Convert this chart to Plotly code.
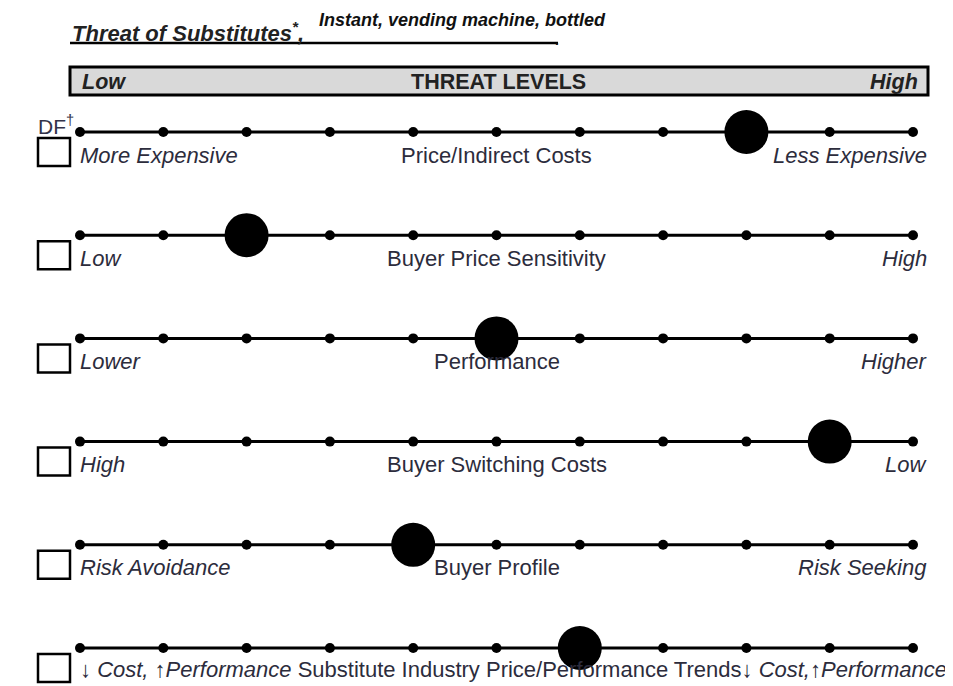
import plotly.graph_objects as go

# ---------------- data ----------------
scale_positions = list(range(11))  # 11 tick dots on each threat scale
factors = ["Price/Indirect Costs", "Buyer Price Sensitivity", "Performance",
           "Buyer Switching Costs", "Buyer Profile",
           "Substitute Industry Price/Performance Trends"]
left_labels = ["More Expensive", "Low", "Lower", "High", "Risk Avoidance",
               "↓ Cost, ↑Performance"]
right_labels = ["Less Expensive", "High", "Higher", "Low", "Risk Seeking",
                "↓ Cost,↑Performance"]
threat_positions = [8, 2, 5, 9, 4, 6]
title_text = "Threat of Substitutes"
industry_text = "Instant, vending machine, bottled"
bar_labels = ["Low", "THREAT LEVELS", "High"]

# ---------------- geometry helpers (page pixel -> data) ----------------
OFF = 8                 # default page body margin
W, H = 953 - OFF, 686 - OFF
X0, DX = 80.0, 83.3     # page px of position 0, px per step
Y0, DY = 132.0, 103.2   # page px of row 0, px per row


def fx(px):
    return (px - X0) / DX


def fy(px):
    return (px - Y0) / DY


FONT = "Liberation Sans, Arial, sans-serif"
TXT = "#2c2c3c"

fig = go.Figure()

# scale lines with dots
for r in range(len(factors)):
    fig.add_trace(go.Scatter(
        x=scale_positions, y=[r] * len(scale_positions),
        mode="lines+markers",
        line=dict(color="black", width=3),
        marker=dict(color="black", size=10),
        hoverinfo="skip", showlegend=False))

# big threat markers
fig.add_trace(go.Scatter(
    x=threat_positions, y=list(range(len(factors))),
    mode="markers",
    marker=dict(color="black", size=44),
    showlegend=False))

shapes = []
annotations = []

# header underline
shapes.append(dict(type="line", xref="x", yref="y",
                   x0=fx(70), x1=fx(558), y0=fy(43), y1=fy(43),
                   line=dict(color="black", width=2.5)))
# threat level bar
shapes.append(dict(type="rect", xref="x", yref="y",
                   x0=fx(70), x1=fx(928), y0=fy(67), y1=fy(95),
                   fillcolor="#d9d9d9", line=dict(color="black", width=3)))

annotations.append(dict(x=fx(70), y=fy(32), xref="x", yref="y",
                        xanchor="left", yanchor="middle", showarrow=False,
                        text="<b><i>" + title_text + "<sup>*</sup>,</i></b>",
                        font=dict(family=FONT, size=22, color="#222")))
annotations.append(dict(x=fx(317), y=fy(20), xref="x", yref="y",
                        xanchor="left", yanchor="middle", showarrow=False,
                        text="<b><i>" + industry_text + "</i></b>",
                        font=dict(family=FONT, size=18, color="#111")))
annotations.append(dict(x=fx(557), y=fy(40), xref="x", yref="y",
                        xanchor="center", yanchor="middle", showarrow=False,
                        text="<b>.</b>", font=dict(family=FONT, size=14, color="#111")))

annotations.append(dict(x=fx(80), y=fy(82), xref="x", yref="y",
                        xanchor="left", yanchor="middle", showarrow=False,
                        text="<b><i>" + bar_labels[0] + "</i></b>",
                        font=dict(family=FONT, size=21.5, color="#222")))
annotations.append(dict(x=fx(498), y=fy(82), xref="x", yref="y",
                        xanchor="center", yanchor="middle", showarrow=False,
                        text="<b>" + bar_labels[1] + "</b>",
                        font=dict(family=FONT, size=21.5, color="#222")))
annotations.append(dict(x=fx(920), y=fy(82), xref="x", yref="y",
                        xanchor="right", yanchor="middle", showarrow=False,
                        text="<b><i>" + bar_labels[2] + "</i></b>",
                        font=dict(family=FONT, size=21.5, color="#222")))

# DF dagger
annotations.append(dict(x=fx(36), y=fy(125), xref="x", yref="y",
                        xanchor="left", yanchor="middle", showarrow=False,
                        text="DF<sup>†</sup>",
                        font=dict(family=FONT, size=21, color="#33334a")))

LAB = 22
for r in range(len(factors)):
    # checkbox
    shapes.append(dict(type="rect", xref="x", yref="y",
                       x0=fx(38), x1=fx(70), y0=r + 6 / DY, y1=r + 34 / DY,
                       fillcolor="white", line=dict(color="black", width=2.5)))
    ly = r + 23 / DY
    if r < len(factors) - 1:
        annotations.append(dict(x=fx(78), y=ly, xref="x", yref="y",
                                xanchor="left", yanchor="middle", showarrow=False,
                                text="<i>" + left_labels[r] + "</i>",
                                font=dict(family=FONT, size=LAB, color=TXT)))
        annotations.append(dict(x=5, y=ly, xref="x", yref="y",
                                xanchor="center", yanchor="middle", showarrow=False,
                                text=factors[r],
                                font=dict(family=FONT, size=LAB, color=TXT)))
        annotations.append(dict(x=fx(929), y=ly, xref="x", yref="y",
                                xanchor="right", yanchor="middle", showarrow=False,
                                text="<i>" + right_labels[r] + "</i>",
                                font=dict(family=FONT, size=LAB, color=TXT)))
    else:
        la = left_labels[r].split(" ", 1)
        ra = right_labels[r]
        txt = (la[0] + " <i>" + la[1] + "</i> " + factors[r] +
               ra[0] + "<i>" + ra[1:] + "</i>")
        annotations.append(dict(x=fx(78), y=r + 21 / DY, xref="x", yref="y",
                                xanchor="left", yanchor="middle", showarrow=False,
                                text=txt,
                                font=dict(family=FONT, size=22, color=TXT)))

fig.update_layout(
    width=W, height=H,
    margin=dict(l=0, r=0, t=0, b=0),
    paper_bgcolor="white", plot_bgcolor="white",
    xaxis=dict(range=[fx(OFF), fx(OFF + W)], visible=False, fixedrange=True),
    yaxis=dict(range=[fy(OFF + H), fy(OFF)], visible=False, fixedrange=True),
    shapes=shapes, annotations=annotations,
    showlegend=False,
)

fig.write_html("out.html")
